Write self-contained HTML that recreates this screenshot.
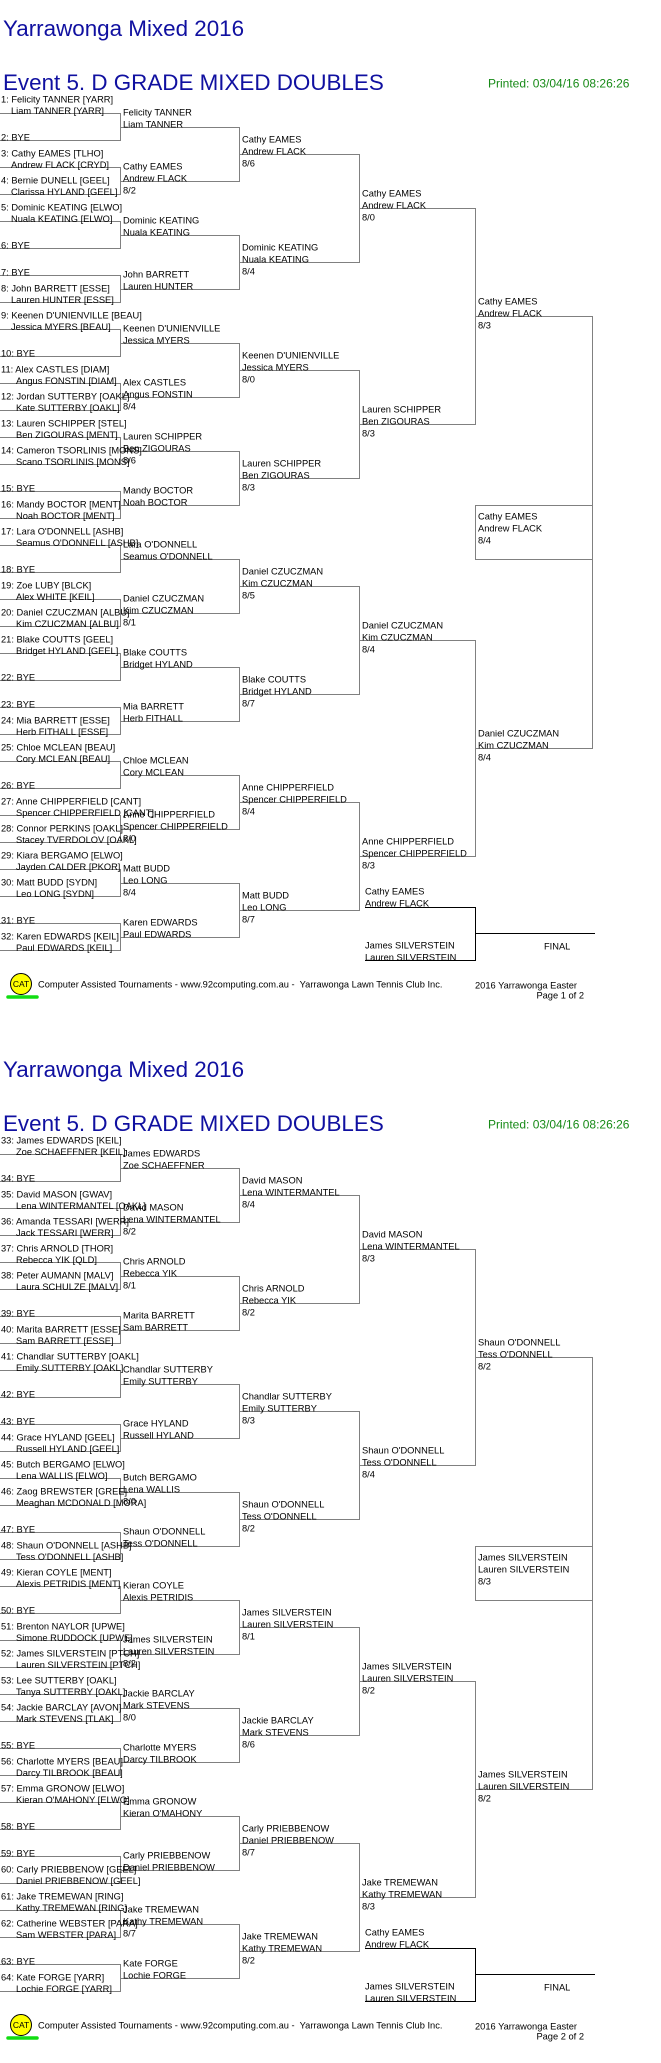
<!DOCTYPE html>
<html><head><meta charset="utf-8"><style>
html,body{margin:0;padding:0;background:#fff;width:661px;height:2063px;overflow:hidden}
svg{display:block}
text{font-family:"Liberation Sans",Arial,sans-serif;font-size:9.3px;fill:#000}
.t{font-size:22.4px;fill:#1010a0}
.p{font-size:12px;fill:#178a17}
.l{fill:none;stroke:#808080;stroke-width:1}
.k{fill:none;stroke:#000;stroke-width:1}
.h{visibility:hidden}
</style></head><body>
<svg width="661" height="2063" viewBox="0 0 661 2063" xmlns="http://www.w3.org/2000/svg" shape-rendering="crispEdges">
<defs>
<g id="lines">
<!-- R1 pairs -->
<path class="l" d="M0 113.5H120.5V140.5H0M0 167.5H120.5V194.5H0M0 221.5H120.5V248.5H0M0 275.5H120.5V302.5H0M0 329.5H120.5V356.5H0M0 383.5H120.5V410.5H0M0 437.5H120.5V464.5H0M0 491.5H120.5V518.5H0M0 545.5H120.5V572.5H0M0 599.5H120.5V626.5H0M0 653.5H120.5V680.5H0M0 707.5H120.5V734.5H0M0 761.5H120.5V788.5H0M0 815.5H120.5V842.5H0M0 869.5H120.5V896.5H0M0 923.5H120.5V950.5H0"/>
<!-- R2 pairs -->
<path class="l" d="M120 127.5H239.5V181.5H120M120 235.5H239.5V289.5H120M120 343.5H239.5V397.5H120M120 451.5H239.5V505.5H120M120 559.5H239.5V613.5H120M120 667.5H239.5V721.5H120M120 775.5H239.5V829.5H120M120 883.5H239.5V937.5H120"/>
<!-- R3 pairs -->
<path class="l" d="M239 154.5H359.5V262.5H239M239 370.5H359.5V478.5H239M239 586.5H359.5V694.5H239M239 802.5H359.5V910.5H239"/>
<!-- R4 pairs -->
<path class="l" d="M359 208.5H475.5V424.5H359M359 640.5H475.5V856.5H359"/>
<!-- R5 -->
<path class="l" d="M475 316.5H592.5V748.5H475"/>
<!-- champion box -->
<path class="l" d="M592 505.5H475.5V559.5H592"/>
<!-- final box -->
<path class="k" d="M365 907.5H475.5V960.5H365M475 933.5H595"/>
<!-- footer -->
<line x1="8" y1="997" x2="37" y2="997" stroke="#11dd11" stroke-width="3.5" stroke-linecap="round" shape-rendering="auto"/>
<circle cx="21" cy="984" r="10.5" fill="#ffff00" stroke="#000" stroke-width="1" shape-rendering="auto"/>
<text x="21" y="987" text-anchor="middle" style="font-size:8.5px">CAT</text>
<text x="38" y="987.5" xml:space="preserve">Computer Assisted Tournaments - www.92computing.com.au -  Yarrawonga Lawn Tennis Club Inc.</text>
<text x="475" y="988.5">2016 Yarrawonga Easter</text>
<text class="t" x="3" y="36">Yarrawonga Mixed 2016</text>
<text class="t" x="3" y="90">Event 5. D GRADE MIXED DOUBLES</text>
<text class="p" x="488" y="87.5">Printed: 03/04/16 08:26:26</text>
<text x="544" y="949.5">FINAL</text>
<text x="365" y="894.5">Cathy EAMES</text><text x="365" y="906.5">Andrew FLACK</text>
<text x="365" y="948.5">James SILVERSTEIN</text><text x="365" y="960.5">Lauren SILVERSTEIN</text>
</g>
</defs>

<!-- PAGE 1 -->
<g>
<use href="#lines"/>
<text x="584" y="998.5" text-anchor="end">Page 1 of 2</text>
<!-- R1 -->
<text x="1" y="102.5">1: Felicity TANNER [YARR]</text><text x="11" y="114">Liam TANNER [YARR]</text>
<text x="1" y="140.5">2: BYE</text>
<text x="1" y="156.5">3: Cathy EAMES [TLHO]</text><text x="11" y="168">Andrew FLACK [CRYD]</text>
<text x="1" y="183.5">4: Bernie DUNELL [GEEL]</text><text x="11" y="195">Clarissa HYLAND [GEEL]</text>
<text x="1" y="210.5">5: Dominic KEATING [ELWO]</text><text x="11" y="222">Nuala KEATING [ELWO]</text>
<text x="1" y="248.5">6: BYE</text>
<text x="1" y="275.5">7: BYE</text>
<text x="1" y="291.5">8: John BARRETT [ESSE]</text><text x="11" y="303">Lauren HUNTER [ESSE]</text>
<text x="1" y="318.5">9: Keenen D'UNIENVILLE [BEAU]</text><text x="11" y="330">Jessica MYERS [BEAU]</text>
<text x="1" y="356.5">10: BYE</text>
<text x="1" y="372.5">11: Alex CASTLES [DIAM]</text><text x="16" y="384">Angus FONSTIN [DIAM]</text>
<text x="1" y="399.5">12: Jordan SUTTERBY [OAKL]</text><text x="16" y="411">Kate SUTTERBY [OAKL]</text>
<text x="1" y="426.5">13: Lauren SCHIPPER [STEL]</text><text x="16" y="438">Ben ZIGOURAS [MENT]</text>
<text x="1" y="453.5">14: Cameron TSORLINIS [MONS]</text><text x="16" y="465">Scano TSORLINIS [MONS]</text>
<text x="1" y="491.5">15: BYE</text>
<text x="1" y="507.5">16: Mandy BOCTOR [MENT]</text><text x="16" y="519">Noah BOCTOR [MENT]</text>
<text x="1" y="534.5">17: Lara O'DONNELL [ASHB]</text><text x="16" y="546">Seamus O'DONNELL [ASHB]</text>
<text x="1" y="572.5">18: BYE</text>
<text x="1" y="588.5">19: Zoe LUBY [BLCK]</text><text x="16" y="600">Alex WHITE [KEIL]</text>
<text x="1" y="615.5">20: Daniel CZUCZMAN [ALBU]</text><text x="16" y="627">Kim CZUCZMAN [ALBU]</text>
<text x="1" y="642.5">21: Blake COUTTS [GEEL]</text><text x="16" y="654">Bridget HYLAND [GEEL]</text>
<text x="1" y="680.5">22: BYE</text>
<text x="1" y="707.5">23: BYE</text>
<text x="1" y="723.5">24: Mia BARRETT [ESSE]</text><text x="16" y="735">Herb FITHALL [ESSE]</text>
<text x="1" y="750.5">25: Chloe MCLEAN [BEAU]</text><text x="16" y="762">Cory MCLEAN [BEAU]</text>
<text x="1" y="788.5">26: BYE</text>
<text x="1" y="804.5">27: Anne CHIPPERFIELD [CANT]</text><text x="16" y="816">Spencer CHIPPERFIELD [CANT]</text>
<text x="1" y="831.5">28: Connor PERKINS [OAKL]</text><text x="16" y="843">Stacey TVERDOLOV [OAKL]</text>
<text x="1" y="858.5">29: Kiara BERGAMO [ELWO]</text><text x="16" y="870">Jayden CALDER [PKOR]</text>
<text x="1" y="885.5">30: Matt BUDD [SYDN]</text><text x="16" y="897">Leo LONG [SYDN]</text>
<text x="1" y="923.5">31: BYE</text>
<text x="1" y="939.5">32: Karen EDWARDS [KEIL]</text><text x="16" y="951">Paul EDWARDS [KEIL]</text>
<!-- R2 -->
<text x="123" y="115.5">Felicity TANNER</text><text x="123" y="127.5">Liam TANNER</text>
<text x="123" y="169.5">Cathy EAMES</text><text x="123" y="181.5">Andrew FLACK</text><text x="123" y="193.5">8/2</text>
<text x="123" y="223.5">Dominic KEATING</text><text x="123" y="235.5">Nuala KEATING</text>
<text x="123" y="277.5">John BARRETT</text><text x="123" y="289.5">Lauren HUNTER</text>
<text x="123" y="331.5">Keenen D'UNIENVILLE</text><text x="123" y="343.5">Jessica MYERS</text>
<text x="123" y="385.5">Alex CASTLES</text><text x="123" y="397.5">Angus FONSTIN</text><text x="123" y="409.5">8/4</text>
<text x="123" y="439.5">Lauren SCHIPPER</text><text x="123" y="451.5">Ben ZIGOURAS</text><text x="123" y="463.5">8/6</text>
<text x="123" y="493.5">Mandy BOCTOR</text><text x="123" y="505.5">Noah BOCTOR</text>
<text x="123" y="547.5">Lara O'DONNELL</text><text x="123" y="559.5">Seamus O'DONNELL</text>
<text x="123" y="601.5">Daniel CZUCZMAN</text><text x="123" y="613.5">Kim CZUCZMAN</text><text x="123" y="625.5">8/1</text>
<text x="123" y="655.5">Blake COUTTS</text><text x="123" y="667.5">Bridget HYLAND</text>
<text x="123" y="709.5">Mia BARRETT</text><text x="123" y="721.5">Herb FITHALL</text>
<text x="123" y="763.5">Chloe MCLEAN</text><text x="123" y="775.5">Cory MCLEAN</text>
<text x="123" y="817.5">Anne CHIPPERFIELD</text><text x="123" y="829.5">Spencer CHIPPERFIELD</text><text x="123" y="841.5">8/0</text>
<text x="123" y="871.5">Matt BUDD</text><text x="123" y="883.5">Leo LONG</text><text x="123" y="895.5">8/4</text>
<text x="123" y="925.5">Karen EDWARDS</text><text x="123" y="937.5">Paul EDWARDS</text>
<!-- R3 -->
<text x="242" y="142.5">Cathy EAMES</text><text x="242" y="154.5">Andrew FLACK</text><text x="242" y="166.5">8/6</text>
<text x="242" y="250.5">Dominic KEATING</text><text x="242" y="262.5">Nuala KEATING</text><text x="242" y="274.5">8/4</text>
<text x="242" y="358.5">Keenen D'UNIENVILLE</text><text x="242" y="370.5">Jessica MYERS</text><text x="242" y="382.5">8/0</text>
<text x="242" y="466.5">Lauren SCHIPPER</text><text x="242" y="478.5">Ben ZIGOURAS</text><text x="242" y="490.5">8/3</text>
<text x="242" y="574.5">Daniel CZUCZMAN</text><text x="242" y="586.5">Kim CZUCZMAN</text><text x="242" y="598.5">8/5</text>
<text x="242" y="682.5">Blake COUTTS</text><text x="242" y="694.5">Bridget HYLAND</text><text x="242" y="706.5">8/7</text>
<text x="242" y="790.5">Anne CHIPPERFIELD</text><text x="242" y="802.5">Spencer CHIPPERFIELD</text><text x="242" y="814.5">8/4</text>
<text x="242" y="898.5">Matt BUDD</text><text x="242" y="910.5">Leo LONG</text><text x="242" y="922.5">8/7</text>
<!-- R4 -->
<text x="362" y="196.5">Cathy EAMES</text><text x="362" y="208.5">Andrew FLACK</text><text x="362" y="220.5">8/0</text>
<text x="362" y="412.5">Lauren SCHIPPER</text><text x="362" y="424.5">Ben ZIGOURAS</text><text x="362" y="436.5">8/3</text>
<text x="362" y="628.5">Daniel CZUCZMAN</text><text x="362" y="640.5">Kim CZUCZMAN</text><text x="362" y="652.5">8/4</text>
<text x="362" y="844.5">Anne CHIPPERFIELD</text><text x="362" y="856.5">Spencer CHIPPERFIELD</text><text x="362" y="868.5">8/3</text>
<!-- R5 -->
<text x="478" y="304.5">Cathy EAMES</text><text x="478" y="316.5">Andrew FLACK</text><text x="478" y="328.5">8/3</text>
<text x="478" y="736.5">Daniel CZUCZMAN</text><text x="478" y="748.5">Kim CZUCZMAN</text><text x="478" y="760.5">8/4</text>
<text x="478" y="519.5">Cathy EAMES</text><text x="478" y="531.5">Andrew FLACK</text><text x="478" y="543.5">8/4</text>
</g>

<!-- PAGE 2 -->
<g transform="translate(0,1041)">
<use href="#lines"/>
<text x="584" y="998.5" text-anchor="end">Page 2 of 2</text>
<!-- R1 -->
<text x="1" y="102.5">33: James EDWARDS [KEIL]</text><text x="16" y="114">Zoe SCHAEFFNER [KEIL]</text>
<text x="1" y="140.5">34: BYE</text>
<text x="1" y="156.5">35: David MASON [GWAV]</text><text x="16" y="168">Lena WINTERMANTEL [OAKL]</text>
<text x="1" y="183.5">36: Amanda TESSARI [WERR]</text><text x="16" y="195">Jack TESSARI [WERR]</text>
<text x="1" y="210.5">37: Chris ARNOLD [THOR]</text><text x="16" y="222">Rebecca YIK [QLD]</text>
<text x="1" y="237.5">38: Peter AUMANN [MALV]</text><text x="16" y="249">Laura SCHULZE [MALV]</text>
<text x="1" y="275.5">39: BYE</text>
<text x="1" y="291.5">40: Marita BARRETT [ESSE]</text><text x="16" y="303">Sam BARRETT [ESSE]</text>
<text x="1" y="318.5">41: Chandlar SUTTERBY [OAKL]</text><text x="16" y="330">Emily SUTTERBY [OAKL]</text>
<text x="1" y="356.5">42: BYE</text>
<text x="1" y="383.5">43: BYE</text>
<text x="1" y="399.5">44: Grace HYLAND [GEEL]</text><text x="16" y="411">Russell HYLAND [GEEL]</text>
<text x="1" y="426.5">45: Butch BERGAMO [ELWO]</text><text x="16" y="438">Lena WALLIS [ELWO]</text>
<text x="1" y="453.5">46: Zaog BREWSTER [GREE]</text><text x="16" y="465">Meaghan MCDONALD [MORA]</text>
<text x="1" y="491.5">47: BYE</text>
<text x="1" y="507.5">48: Shaun O'DONNELL [ASHB]</text><text x="16" y="519">Tess O'DONNELL [ASHB]</text>
<text x="1" y="534.5">49: Kieran COYLE [MENT]</text><text x="16" y="546">Alexis PETRIDIS [MENT]</text>
<text x="1" y="572.5">50: BYE</text>
<text x="1" y="588.5">51: Brenton NAYLOR [UPWE]</text><text x="16" y="600">Simone RUDDOCK [UPWE]</text>
<text x="1" y="615.5">52: James SILVERSTEIN [PTCH]</text><text x="16" y="627">Lauren SILVERSTEIN [PTCH]</text>
<text x="1" y="642.5">53: Lee SUTTERBY [OAKL]</text><text x="16" y="654">Tanya SUTTERBY [OAKL]</text>
<text x="1" y="669.5">54: Jackie BARCLAY [AVON]</text><text x="16" y="681">Mark STEVENS [TLAK]</text>
<text x="1" y="707.5">55: BYE</text>
<text x="1" y="723.5">56: Charlotte MYERS [BEAU]</text><text x="16" y="735">Darcy TILBROOK [BEAU]</text>
<text x="1" y="750.5">57: Emma GRONOW [ELWO]</text><text x="16" y="762">Kieran O'MAHONY [ELWO]</text>
<text x="1" y="788.5">58: BYE</text>
<text x="1" y="815.5">59: BYE</text>
<text x="1" y="831.5">60: Carly PRIEBBENOW [GEEL]</text><text x="16" y="843">Daniel PRIEBBENOW [GEEL]</text>
<text x="1" y="858.5">61: Jake TREMEWAN [RING]</text><text x="16" y="870">Kathy TREMEWAN [RING]</text>
<text x="1" y="885.5">62: Catherine WEBSTER [PARA]</text><text x="16" y="897">Sam WEBSTER [PARA]</text>
<text x="1" y="923.5">63: BYE</text>
<text x="1" y="939.5">64: Kate FORGE [YARR]</text><text x="16" y="951">Lochie FORGE [YARR]</text>
<!-- R2 -->
<text x="123" y="115.5">James EDWARDS</text><text x="123" y="127.5">Zoe SCHAEFFNER</text>
<text x="123" y="169.5">David MASON</text><text x="123" y="181.5">Lena WINTERMANTEL</text><text x="123" y="193.5">8/2</text>
<text x="123" y="223.5">Chris ARNOLD</text><text x="123" y="235.5">Rebecca YIK</text><text x="123" y="247.5">8/1</text>
<text x="123" y="277.5">Marita BARRETT</text><text x="123" y="289.5">Sam BARRETT</text>
<text x="123" y="331.5">Chandlar SUTTERBY</text><text x="123" y="343.5">Emily SUTTERBY</text>
<text x="123" y="385.5">Grace HYLAND</text><text x="123" y="397.5">Russell HYLAND</text>
<text x="123" y="439.5">Butch BERGAMO</text><text x="123" y="451.5">Lena WALLIS</text><text x="123" y="463.5">8/0</text>
<text x="123" y="493.5">Shaun O'DONNELL</text><text x="123" y="505.5">Tess O'DONNELL</text>
<text x="123" y="547.5">Kieran COYLE</text><text x="123" y="559.5">Alexis PETRIDIS</text>
<text x="123" y="601.5">James SILVERSTEIN</text><text x="123" y="613.5">Lauren SILVERSTEIN</text><text x="123" y="625.5">8/2</text>
<text x="123" y="655.5">Jackie BARCLAY</text><text x="123" y="667.5">Mark STEVENS</text><text x="123" y="679.5">8/0</text>
<text x="123" y="709.5">Charlotte MYERS</text><text x="123" y="721.5">Darcy TILBROOK</text>
<text x="123" y="763.5">Emma GRONOW</text><text x="123" y="775.5">Kieran O'MAHONY</text>
<text x="123" y="817.5">Carly PRIEBBENOW</text><text x="123" y="829.5">Daniel PRIEBBENOW</text>
<text x="123" y="871.5">Jake TREMEWAN</text><text x="123" y="883.5">Kathy TREMEWAN</text><text x="123" y="895.5">8/7</text>
<text x="123" y="925.5">Kate FORGE</text><text x="123" y="937.5">Lochie FORGE</text>
<!-- R3 -->
<text x="242" y="142.5">David MASON</text><text x="242" y="154.5">Lena WINTERMANTEL</text><text x="242" y="166.5">8/4</text>
<text x="242" y="250.5">Chris ARNOLD</text><text x="242" y="262.5">Rebecca YIK</text><text x="242" y="274.5">8/2</text>
<text x="242" y="358.5">Chandlar SUTTERBY</text><text x="242" y="370.5">Emily SUTTERBY</text><text x="242" y="382.5">8/3</text>
<text x="242" y="466.5">Shaun O'DONNELL</text><text x="242" y="478.5">Tess O'DONNELL</text><text x="242" y="490.5">8/2</text>
<text x="242" y="574.5">James SILVERSTEIN</text><text x="242" y="586.5">Lauren SILVERSTEIN</text><text x="242" y="598.5">8/1</text>
<text x="242" y="682.5">Jackie BARCLAY</text><text x="242" y="694.5">Mark STEVENS</text><text x="242" y="706.5">8/6</text>
<text x="242" y="790.5">Carly PRIEBBENOW</text><text x="242" y="802.5">Daniel PRIEBBENOW</text><text x="242" y="814.5">8/7</text>
<text x="242" y="898.5">Jake TREMEWAN</text><text x="242" y="910.5">Kathy TREMEWAN</text><text x="242" y="922.5">8/2</text>
<!-- R4 -->
<text x="362" y="196.5">David MASON</text><text x="362" y="208.5">Lena WINTERMANTEL</text><text x="362" y="220.5">8/3</text>
<text x="362" y="412.5">Shaun O'DONNELL</text><text x="362" y="424.5">Tess O'DONNELL</text><text x="362" y="436.5">8/4</text>
<text x="362" y="628.5">James SILVERSTEIN</text><text x="362" y="640.5">Lauren SILVERSTEIN</text><text x="362" y="652.5">8/2</text>
<text x="362" y="844.5">Jake TREMEWAN</text><text x="362" y="856.5">Kathy TREMEWAN</text><text x="362" y="868.5">8/3</text>
<!-- R5 -->
<text x="478" y="304.5">Shaun O'DONNELL</text><text x="478" y="316.5">Tess O'DONNELL</text><text x="478" y="328.5">8/2</text>
<text x="478" y="736.5">James SILVERSTEIN</text><text x="478" y="748.5">Lauren SILVERSTEIN</text><text x="478" y="760.5">8/2</text>
<text x="478" y="519.5">James SILVERSTEIN</text><text x="478" y="531.5">Lauren SILVERSTEIN</text><text x="478" y="543.5">8/3</text>
</g>
</svg>
</body></html>
